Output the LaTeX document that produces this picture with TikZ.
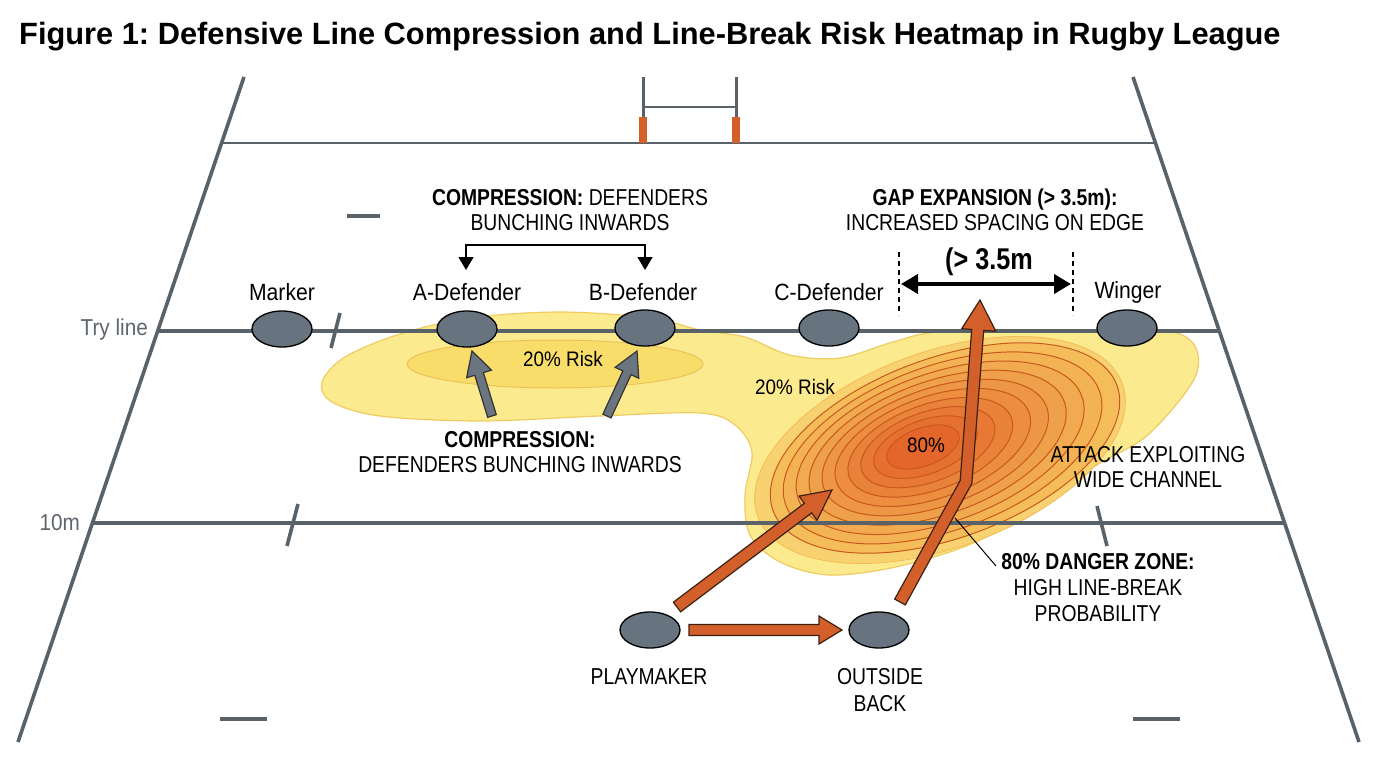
\documentclass[tikz,border=0pt]{standalone}
\usepackage{fontspec}
\setmainfont{Liberation Sans}
\newfontfamily\labf[FakeStretch=0.9]{Liberation Sans}
\newfontfamily\capf[FakeStretch=0.84]{Liberation Sans}
\usetikzlibrary{shapes.geometric,arrows.meta,calc}
\frenchspacing
\definecolor{lineg}{HTML}{596169}
\definecolor{playerg}{HTML}{67737F}
\definecolor{textg}{HTML}{5E656C}
\definecolor{yfill}{HTML}{FCEB8E}
\definecolor{yedge}{HTML}{EFCB62}
\definecolor{yin}{HTML}{F8DD6A}
\definecolor{yinedge}{HTML}{EDC25A}
\definecolor{oout}{HTML}{F5BD5A}
\definecolor{oin}{HTML}{E4662A}
\definecolor{ostroke}{HTML}{C8581E}
\definecolor{arrowo}{HTML}{D3602A}
\definecolor{arrowedge}{HTML}{3D2010}
\definecolor{garrow}{HTML}{6B7580}
\newcommand\blockarrow[6]{%
  \coordinate (ba-h) at ($(#2)!#5!(#1)$);
  \draw[#6] ($(#1)!#3!90:(#2)$) -- ($(ba-h)!#3!-90:(#1)$) -- ($(ba-h)!#4!-90:(#1)$) -- (#2) -- ($(ba-h)!#4!90:(#1)$) -- ($(ba-h)!#3!90:(#1)$) -- ($(#1)!#3!-90:(#2)$) -- cycle;}
\tikzset{
  fieldline/.style={draw=lineg, line width=3.2pt},
  tickmark/.style={draw=lineg, line width=3.6pt},
  player/.style={ellipse, draw=black, line width=1.3pt, fill=playerg, minimum width=60pt, minimum height=36pt, inner sep=0pt},
  lbl/.style={font=\labf\fontsize{23.5}{26}\selectfont, text=black, inner sep=0pt},
  glbl/.style={font=\labf\fontsize{23}{26}\selectfont, text=textg, inner sep=0pt},
  capl/.style={font=\capf\fontsize{23}{25}\selectfont, text=black, align=center, inner sep=0pt},
  risk/.style={font=\labf\fontsize{21}{24}\selectfont, text=black, inner sep=0pt},
  oarrow/.style={fill=arrowo, draw=arrowedge, line width=1.2pt, line join=miter},
  gyarrow/.style={fill=garrow, draw=black!80, line width=1.2pt, line join=miter},
  ring/.style={draw=ostroke, line width=1pt},
  brk/.style={draw=black, line width=1.4pt},
}
\begin{document}
\begin{tikzpicture}[x=1pt,y=-1pt]
\useasboundingbox (0,0) rectangle (1376,768);
\fill[white] (0,0) rectangle (1376,768);

% ---------- heatmap ----------
\filldraw[fill=yfill, draw=yedge, line width=1.2pt] plot[smooth cycle, tension=0.55] coordinates {(322,382) (345,357) (400,334) (470,318) (560,312) (650,318) (700,330) (745,337) (790,355) (840,358) (893,342) (940,332) (1060,331) (1177,333) (1197,372) (1150,433) (1100,463) (1050,493) (980,540) (900,566) (830,575) (780,562) (750,535) (745,495) (752,452) (735,425) (700,413) (600,416) (480,421) (380,416) (332,402)};
\filldraw[fill=yin, draw=yinedge, line width=1pt] (555,364) ellipse [x radius=148, y radius=24];

\filldraw[fill=oout!55!yfill, draw=oout, line width=0.9pt, rotate around={20:(940,450)}] (940,450) ellipse [x radius=194, y radius=98];
\foreach \k in {0,...,9}{
  \pgfmathsetmacro{\t}{\k/9}
  \pgfmathsetmacro{\cx}{945-22*\t}
  \pgfmathsetmacro{\cy}{448-1*\t}
  \pgfmathsetmacro{\ra}{183-145*\t}
  \pgfmathsetmacro{\rb}{90-71*\t}
  \pgfmathsetmacro{\p}{100*\t}
  \filldraw[ring, fill=oin!\p!oout, rotate around={20:(\cx,\cy)}] (\cx,\cy) ellipse [x radius=\ra, y radius=\rb];
}

% ---------- field ----------
\draw[fieldline, line width=3.6pt] (244,77) -- (18,742);
\draw[fieldline, line width=3.6pt] (1133,77) -- (1359,742);
\draw[fieldline, line width=2.8pt] (222,143) -- (1155,143);
\draw[fieldline] (158,331) -- (1219,331);
\draw[fieldline] (92,523) -- (1285,523);
% goal posts
\draw[fieldline, line width=3pt] (643,77) -- (643,143);
\draw[fieldline, line width=3pt] (736,77) -- (736,143);
\draw[fieldline, line width=2.6pt] (643,107) -- (736,107);
\fill[arrowo] (639,117) rectangle (647,143);
\fill[arrowo] (732,117) rectangle (740,143);
% ticks
\draw[tickmark] (340,313) -- (331,348);
\draw[tickmark] (298,504) -- (287,546);
\draw[tickmark] (1097,506) -- (1107,546);
\draw[tickmark] (347,216) -- (380,216);
\draw[tickmark] (220,719) -- (267,719);
\draw[tickmark] (1133,719) -- (1180,719);

\node[glbl, anchor=east] (tryl) at (148,330) {Try line};
\node[glbl, anchor=east] (tenm) at (80,523) {10m};

% ---------- players ----------
\node[player] (marker) at (282,329) {};
\node[player] (adef) at (467,329) {};
\node[player] (bdef) at (645,328) {};
\node[player] (cdef) at (829,328) {};
\node[player] (wing) at (1127,328) {};
\node[player] (play) at (650,630) {};
\node[player] (oback) at (879,630) {};

\node[lbl] (mlab) at (282,292) {Marker};
\node[lbl] (alab) at (467,292) {A-Defender};
\node[lbl] (blab) at (643,292) {B-Defender};
\node[lbl] (clab) at (829,292) {C-Defender};
\node[lbl] (wlab) at (1128,292) {Winger};

% ---------- top compression ----------
\node[capl] (comptop) at (570,210) {\textbf{COMPRESSION:} DEFENDERS\\BUNCHING INWARDS};
\coordinate (ta) at (466,270);
\coordinate (tb) at (645,270);
\draw[brk, {Triangle[length=13pt,width=15pt]}-{Triangle[length=13pt,width=15pt]}] (ta) -- ++(0,-25) -| (tb);

% ---------- gap expansion ----------
\node[capl] (gaplab) at (995,210) {\textbf{GAP EXPANSION (> 3.5m):}\\INCREASED SPACING ON EDGE};
\draw[draw=black, line width=1.5pt, dash pattern=on 5pt off 4pt] (899,252) -- (899,315);
\draw[draw=black, line width=1.5pt, dash pattern=on 5pt off 4pt] (1073,252) -- (1073,315);
\coordinate (gl) at (901,284);
\coordinate (gr) at (1071,284);
\draw[draw=black, line width=4pt, {Triangle[length=17pt,width=19pt]}-{Triangle[length=17pt,width=19pt]}] (gl) -- (gr);
\node[font=\capf\bfseries\fontsize{30}{32}\selectfont, inner sep=0pt] (gapv) at (989,262) {(> 3.5m};

% ---------- texts in heatmap ----------
\node[risk] (r1) at (563,359) {20\% Risk};
\node[risk] (r2) at (795,387) {20\% Risk};
\node[risk] (r3) at (926,445) {80\%};

% ---------- gray arrows ----------
\coordinate (g1s) at (492,416);
\coordinate (g1e) at (472,351);
\coordinate (g2s) at (607,416);
\coordinate (g2e) at (637,351);
\blockarrow{g1s}{g1e}{4.5pt}{13pt}{24pt}{gyarrow}
\blockarrow{g2s}{g2e}{4.5pt}{13pt}{24pt}{gyarrow}

\node[capl] (compbot) at (520,452) {\textbf{COMPRESSION:}\\DEFENDERS BUNCHING INWARDS};

% ---------- orange arrows ----------
\coordinate (o1s) at (677,607);
\coordinate (o1e) at (832,490);
\blockarrow{o1s}{o1e}{6pt}{15pt}{30pt}{oarrow}
\coordinate (o2s) at (689,630);
\coordinate (o2e) at (842,630);
\blockarrow{o2s}{o2e}{5.5pt}{14pt}{23pt}{oarrow}
% bent arrow outside back -> through the gap
\coordinate (b1) at (894.7,599.1);
\coordinate (b2) at (960.2,480.5);
\coordinate (b3) at (971.7,329.4);
\coordinate (b4) at (961.7,328.7);
\coordinate (btip) at (980,300);
\coordinate (b5) at (995.7,331.1);
\coordinate (b6) at (983.7,330.4);
\coordinate (b7) at (971.8,483.5);
\coordinate (b8) at (905.3,604.9);
\draw[oarrow] (b1) -- (b2) -- (b3) -- (b4) -- (btip) -- (b5) -- (b6) -- (b7) -- (b8) -- cycle;

% ---------- right labels ----------
\node[capl] (attack) at (1148,467) {ATTACK EXPLOITING\\WIDE CHANNEL};
\node[capl, font=\capf\fontsize{23}{26}\selectfont] (danger) at (1098,588) {\textbf{80\% DANGER ZONE:}\\HIGH LINE-BREAK\\PROBABILITY};
\coordinate (dzs) at (955,518);
\coordinate (dze) at (996,566);
\draw[black, line width=1pt] (dzs) -- (dze);

\node[capl] (playlab) at (649,677) {PLAYMAKER};
\node[capl, font=\capf\fontsize{23}{27}\selectfont] (obacklab) at (880,690) {OUTSIDE\\BACK};

% ---------- title ----------
\node[anchor=west, font=\bfseries\fontsize{30.8}{33}\selectfont, inner sep=0pt] (title) at (19,37) {Figure 1: Defensive Line Compression and Line-Break Risk Heatmap in Rugby League};
\end{tikzpicture}
\end{document}
